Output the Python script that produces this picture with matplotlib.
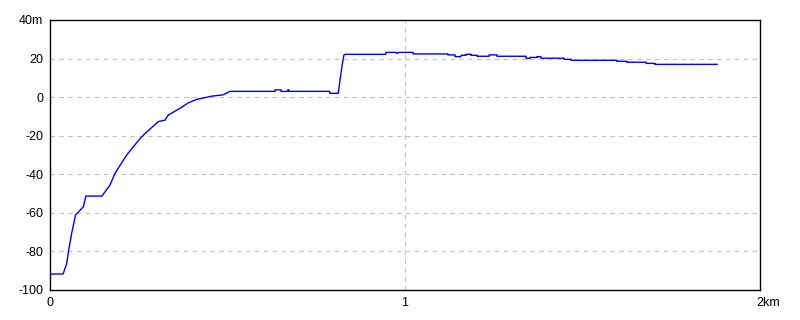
import matplotlib.pyplot as plt
from matplotlib.transforms import ScaledTranslation

# elevation profile
dist_km = [0.000, 0.037, 0.047, 0.052, 0.061, 0.072, 0.094, 0.101, 0.146, 0.169,
           0.183, 0.216, 0.235, 0.254, 0.268, 0.305, 0.324, 0.333, 0.366, 0.390,
           0.413, 0.455, 0.488, 0.507, 0.634, 0.634, 0.651, 0.651, 0.670, 0.670,
           0.673, 0.673, 0.788, 0.788, 0.812, 0.817, 0.823, 0.828, 0.831, 0.946,
           0.946, 0.975, 0.977, 0.983, 1.023, 1.023, 1.121, 1.121, 1.141, 1.141,
           1.158, 1.158, 1.172, 1.172, 1.186, 1.186, 1.203, 1.203, 1.237, 1.237,
           1.259, 1.259, 1.341, 1.341, 1.352, 1.352, 1.372, 1.372, 1.383, 1.383,
           1.448, 1.448, 1.468, 1.468, 1.597, 1.597, 1.625, 1.625, 1.679, 1.679,
           1.704, 1.704, 1.879]
elev_m = [-91.7, -91.7, -86.2, -80.1, -70.6, -61.1, -56.8, -51.3, -51.3, -45.6,
          -39.5, -30.0, -25.7, -21.4, -18.8, -12.7, -11.9, -9.3, -5.8, -2.9,
          -1.2, 0.5, 1.2, 3.0, 3.0, 3.8, 3.8, 3.0, 3.0, 3.8,
          3.8, 3.0, 3.0, 2.0, 2.0, 8.9, 16.7, 21.9, 22.2, 22.2,
          23.2, 23.2, 22.7, 23.2, 23.2, 22.4, 22.4, 21.9, 21.9, 21.0,
          21.0, 21.7, 21.7, 22.2, 22.2, 21.7, 21.7, 21.2, 21.2, 21.9,
          21.9, 21.2, 21.2, 20.1, 20.1, 20.6, 20.6, 21.0, 21.0, 20.2,
          20.2, 19.6, 19.6, 19.1, 19.1, 18.6, 18.6, 18.1, 18.1, 17.5,
          17.5, 17.0, 17.0]

x_ticks = [0, 1, 2]
x_labels = ['0', '1', '2km']
y_ticks = [-100, -80, -60, -40, -20, 0, 20, 40]
y_labels = ['-100', '-80', '-60', '-40', '-20', '0', '20', '40m']

plt.rcParams['font.family'] = ['Liberation Sans', 'DejaVu Sans']

fig = plt.figure(figsize=(8, 3.2), dpi=100)
ax = fig.add_axes([0.0625, 0.09375, 0.8875, 0.84375])

# dashed grid, skipping the border lines
for y in y_ticks[1:-1]:
    ax.axhline(y, color='#c0c0c0', linestyle=(0, (4, 4)), linewidth=0.8, zorder=1)
for x in x_ticks[1:-1]:
    ax.axvline(x, color='#c0c0c0', linestyle=(0, (4, 4)), linewidth=0.8, zorder=1)

ax.plot(dist_km, elev_m, color='#0000ff', linewidth=1.0, zorder=3)

ax.set_xlim(0, 2)
ax.set_ylim(-100, 40)
ax.set_xticks(x_ticks)
ax.set_xticklabels(x_labels)
ax.set_yticks(y_ticks)
ax.set_yticklabels(y_labels)
ax.tick_params(length=0, labelsize=9, pad=5, colors='black')

for s in ax.spines.values():
    s.set_linewidth(1.0)
    s.set_color('black')

# "2km": keep the digit under the axis end
lab = ax.get_xticklabels()[-1]
lab.set_ha('left')
lab.set_transform(lab.get_transform() + ScaledTranslation(-4 / 100, 0, fig.dpi_scale_trans))

fig.savefig('out.png', dpi=100)
